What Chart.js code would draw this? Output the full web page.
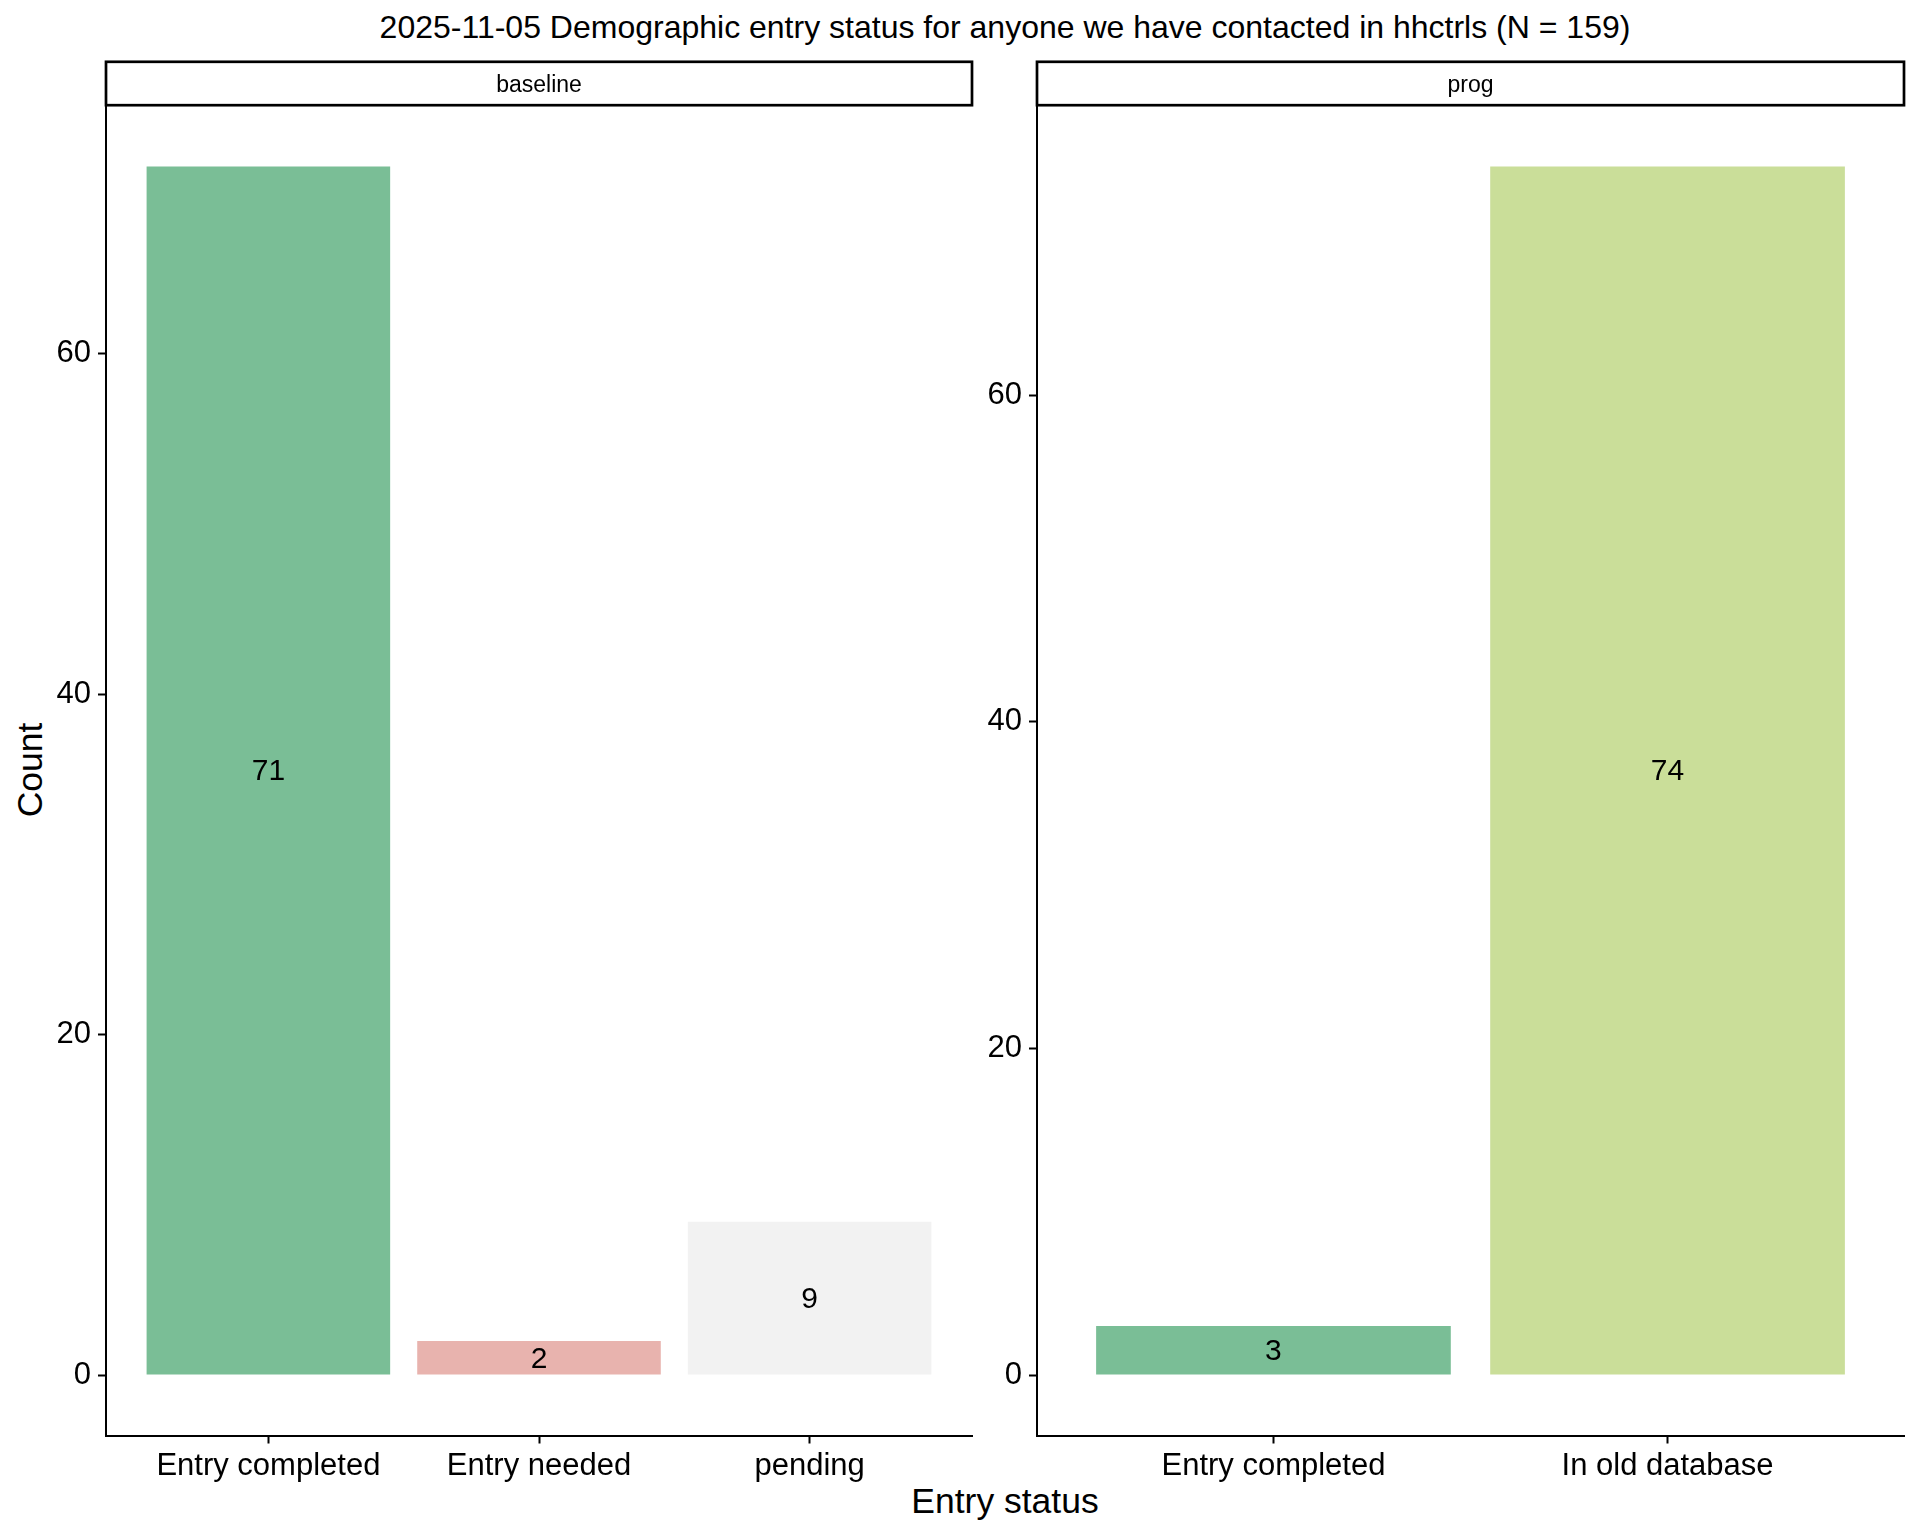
<!DOCTYPE html>
<html>
<head>
<meta charset="utf-8">
<script src="https://cdn.jsdelivr.net/npm/chart.js@4.4.1/dist/chart.umd.min.js"></script>
<style>
  html, body { margin: 0; padding: 0; background: #fff; }
  body { width: 1920px; height: 1536px; position: relative; overflow: hidden; font-family: "Liberation Sans", Arial, sans-serif; }
  .abs { position: absolute; }
  canvas { position: absolute; }
  .txt { position: absolute; white-space: nowrap; color: #000; transform: translate(-50%, -50%); line-height: 1; }
</style>
</head>
<body>
<div class="txt" id="title" style="left:1005px; top:27px; font-size:32px;">2025-11-05 Demographic entry status for anyone we have contacted in hhctrls (N = 159)</div>
<div class="txt" id="ytitle" style="left:31px; top:770px; font-size:35.5px; transform: translate(-50%, -50%) rotate(-90deg);">Count</div>
<div class="txt" id="xtitle" style="left:1005px; top:1502px; font-size:35.5px;">Entry status</div>
<div class="abs" style="left:0; top:57.5px; width:975px; height:1444.5px;"><canvas id="c1"></canvas></div>
<div class="abs" style="left:975px; top:57.5px; width:945px; height:1444.5px;"><canvas id="c2"></canvas></div>
<script>
// ---- data ----
const panelNames = ['baseline', 'prog'];
const baselineCategories = ['Entry completed', 'Entry needed', 'pending'];
const baselineCounts = [71, 2, 9];
const progCategories = ['Entry completed', 'In old database'];
const progCounts = [3, 74];
const yTickValues = [0, 20, 40, 60];

// ---- styles ----
const statusColors = {
  'Entry completed': '#7ABE96',
  'Entry needed': '#E8B3AE',
  'pending': '#F2F2F2',
  'In old database': '#CADE99'
};
const FONT = '"Liberation Sans", Arial, sans-serif';

const stripAndLabels = {
  id: 'stripAndLabels',
  afterDatasetsDraw(chart, args, opts) {
    const ctx = chart.ctx;
    const meta = chart.getDatasetMeta(0);
    const ds = chart.data.datasets[0];
    ctx.save();
    ctx.fillStyle = '#000';
    ctx.font = '30px ' + FONT;
    ctx.textAlign = 'center';
    ctx.textBaseline = 'middle';
    meta.data.forEach((el, i) => {
      const v = ds.data[i].y;
      ctx.fillText(String(v), el.x, (el.y + el.base) / 2 + 1.5);
    });
    ctx.restore();
  },
  afterDraw(chart, args, opts) {
    const ctx = chart.ctx;
    const a = chart.chartArea;
    ctx.save();
    ctx.strokeStyle = '#000';
    ctx.lineWidth = 2.7;
    ctx.strokeRect(a.left, a.top - 44.2, a.right - a.left, 43.4);
    ctx.fillStyle = '#000';
    ctx.font = '23px ' + FONT;
    ctx.textAlign = 'center';
    ctx.textBaseline = 'middle';
    ctx.fillText(opts.label, (a.left + a.right) / 2, a.top - 20);
    ctx.restore();
  }
};

function makePanel(canvasId, name, categories, counts, yWidth, padRight) {
  const maxV = Math.max(...counts);
  const n = categories.length;
  new Chart(document.getElementById(canvasId), {
    type: 'bar',
    data: {
      datasets: [{
        data: categories.map((c, i) => ({ x: i + 1, y: counts[i] })),
        backgroundColor: categories.map(c => statusColors[c]),
        borderWidth: 0,
        barPercentage: 0.9,
        categoryPercentage: 1.0
      }]
    },
    options: {
      responsive: true,
      maintainAspectRatio: false,
      animation: false,
      events: [],
      layout: { padding: { left: 0, right: padRight, top: 48, bottom: 0 } },
      plugins: {
        legend: { display: false },
        tooltip: { enabled: false },
        title: { display: false },
        stripAndLabels: { label: name }
      },
      scales: {
        x: {
          type: 'linear',
          offset: false,
          min: 0.4,
          max: n + 0.6,
          afterBuildTicks: s => { s.ticks = categories.map((c, i) => ({ value: i + 1 })); },
          afterFit: s => { s.height = 67; s.paddingLeft = 0; s.paddingRight = 0; },
          grid: { display: true, drawOnChartArea: false, drawTicks: true, tickLength: 8, tickWidth: 2, tickColor: '#000', offset: false },
          border: { display: true, color: '#000', width: 2 },
          ticks: {
            color: '#000',
            font: { family: FONT, size: 31 },
            padding: 4,
            maxRotation: 0,
            autoSkip: false,
            callback: v => categories[Math.round(v) - 1]
          }
        },
        y: {
          type: 'linear',
          min: -0.05 * maxV,
          max: 1.05 * maxV,
          afterBuildTicks: s => { s.ticks = yTickValues.map(v => ({ value: v })); },
          afterFit: s => { s.width = yWidth; s.paddingTop = 0; s.paddingBottom = 0; },
          grid: { display: true, drawOnChartArea: false, drawTicks: true, tickLength: 8, tickWidth: 2, tickColor: '#000' },
          border: { display: true, color: '#000', width: 2 },
          ticks: {
            color: '#000',
            font: { family: FONT, size: 31 },
            padding: 7,
            callback: v => String(v)
          }
        }
      }
    },
    plugins: [stripAndLabels]
  });
}

makePanel('c1', panelNames[0], baselineCategories, baselineCounts, 106, 3);
makePanel('c2', panelNames[1], progCategories, progCounts, 62, 16);
</script>
</body>
</html>
